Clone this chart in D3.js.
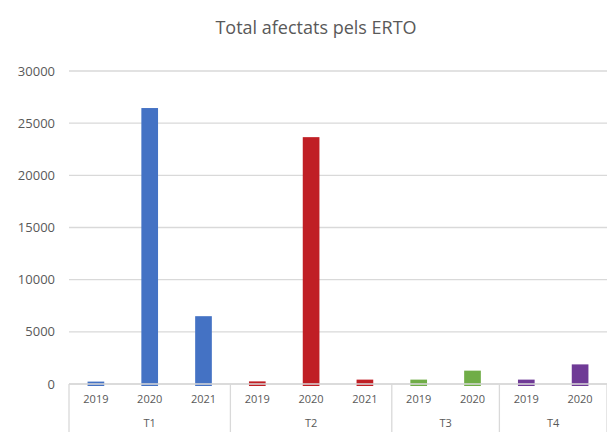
<!DOCTYPE html>
<html>
<head>
<meta charset="utf-8">
<script src="https://cdn.jsdelivr.net/npm/d3@7"></script>
<style>
  body { margin: 0; background: #fff; }
  svg { display: block; font-family: "Open Sans", "Noto Sans", sans-serif; }
</style>
</head>
<body>
<div id="chart"></div>
<script>
// data
const groups = ["T1", "T2", "T3", "T4"];
const years = [["2019", "2020", "2021"], ["2019", "2020", "2021"], ["2019", "2020"], ["2019", "2020"]];
const values = [[230, 26450, 6500], [250, 23660, 420], [420, 1280], [420, 1880]];
const colors = ["#4472c4", "#c01f25", "#70ad47", "#6f3a96"];
const yTicks = [0, 5000, 10000, 15000, 20000, 25000, 30000];

const svgWidth = 607, svgHeight = 432;
const margin = { top: 71, right: 0, bottom: 48, left: 69 };
const width = svgWidth - margin.left - margin.right;
const height = svgHeight - margin.top - margin.bottom;

// flatten to one row per bar
const rows = [];
groups.forEach((g, gi) => {
    years[gi].forEach((yr, i) => {
        rows.push({ key: g + "-" + yr, group: g, gi: gi, year: yr, value: values[gi][i] });
    });
});

const svg = d3.select("#chart").append("svg")
    .attr("width", svgWidth)
    .attr("height", svgHeight);

svg.append("text")
    .attr("x", 316)
    .attr("y", 34)
    .attr("text-anchor", "middle")
    .style("font-size", "18px")
    .style("fill", "#595959")
    .text("Total afectats pels ERTO");

const g = svg.append("g")
    .attr("transform", `translate(${margin.left}, ${margin.top})`);

const x = d3.scaleBand()
    .domain(rows.map(d => d.key))
    .range([0, width])
    .paddingInner(0.69)
    .paddingOuter(0.345);

const y = d3.scaleLinear()
    .domain([0, 30000])
    .range([height, 0]);

// gridlines
g.selectAll(".grid")
    .data(yTicks)
    .enter().append("line")
    .attr("class", "grid")
    .attr("x1", 0)
    .attr("x2", width)
    .attr("y1", d => y(d))
    .attr("y2", d => y(d))
    .style("stroke", "#d9d9d9")
    .style("stroke-width", "1.3px");

// y tick labels
g.selectAll(".ylab")
    .data(yTicks)
    .enter().append("text")
    .attr("x", -14)
    .attr("y", d => y(d))
    .attr("dy", "0.35em")
    .attr("text-anchor", "end")
    .style("font-size", "13px")
    .style("fill", "#595959")
    .text(d => d);

// bars
g.selectAll(".bar")
    .data(rows)
    .enter().append("rect")
    .attr("class", "bar")
    .attr("x", d => x(d.key))
    .attr("width", x.bandwidth())
    .attr("y", d => y(d.value))
    .attr("height", d => y(0) - y(d.value) + 2)
    .style("fill", d => colors[d.gi]);

// axis line over bars
g.append("line")
    .attr("x1", 0)
    .attr("x2", width)
    .attr("y1", y(0))
    .attr("y2", y(0))
    .style("stroke", "#d9d9d9")
    .style("stroke-width", "1.3px");

// year labels
g.selectAll(".xlab")
    .data(rows)
    .enter().append("text")
    .attr("x", d => x(d.key) + x.bandwidth() / 2)
    .attr("y", height + 19)
    .attr("text-anchor", "middle")
    .style("font-size", "11px")
    .style("fill", "#595959")
    .text(d => d.year);

// group dividers and labels
const step = x.step();
let start = 0;
const bounds = [];
groups.forEach((grp, gi) => {
    const n = years[gi].length;
    bounds.push({ group: grp, x0: start * step, x1: (start + n) * step });
    start += n;
});

g.selectAll(".divider")
    .data([0].concat(bounds.map(b => b.x1)))
    .enter().append("line")
    .attr("class", "divider")
    .attr("x1", d => d)
    .attr("x2", d => d)
    .attr("y1", height)
    .attr("y2", svgHeight - margin.top)
    .style("stroke", "#d9d9d9")
    .style("stroke-width", "1.3px");

g.selectAll(".glab")
    .data(bounds)
    .enter().append("text")
    .attr("x", d => (d.x0 + d.x1) / 2)
    .attr("y", height + 43)
    .attr("text-anchor", "middle")
    .style("font-size", "11px")
    .style("fill", "#595959")
    .text(d => d.group);
</script>
</body>
</html>
